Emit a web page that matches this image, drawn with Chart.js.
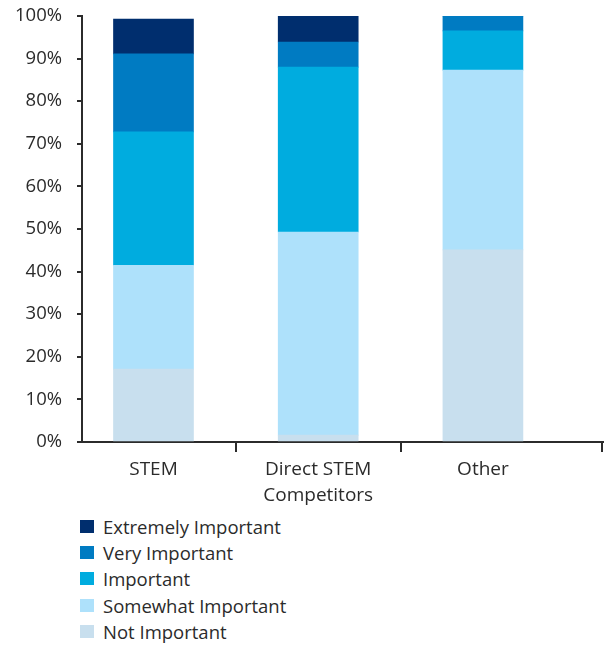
<!DOCTYPE html>
<html>
<head>
<meta charset="utf-8">
<script src="https://cdn.jsdelivr.net/npm/chart.js@4.4.1/dist/chart.umd.min.js"></script>
<style>
  html, body { margin: 0; padding: 0; background: #ffffff; }
  #wrap { position: relative; width: 609px; height: 645px; }
  #chartBox { position: absolute; left: 0; top: 0; width: 609px; height: 510px; }
  #legend { position: absolute; left: 80px; top: 513px; font-family: "Open Sans", sans-serif; font-size: 18.5px; color: #2b2b2b; }
  .lg-row { display: flex; align-items: center; height: 26.3px; }
  .lg-box { width: 14px; height: 13px; margin-right: 9px; }
</style>
</head>
<body>
<div id="wrap">
  <div id="chartBox"><canvas id="c"></canvas></div>
  <div id="legend"></div>
</div>
<script>
// ---- data ----
const categories = ["STEM", ["Direct STEM", "Competitors"], "Other"];
const categoryPositions = [0, 1, 2];
const seriesNames = ["Not Important", "Somewhat Important", "Important", "Very Important", "Extremely Important"];
const notImportant       = [17.1, 1.6, 45.1];
const somewhatImportant  = [24.4, 47.7, 42.2];
const important          = [31.3, 38.7, 9.2];
const veryImportant      = [18.3, 5.9, 3.5];
const extremelyImportant = [8.2, 6.1, 0];
const yTicks = [0, 10, 20, 30, 40, 50, 60, 70, 80, 90, 100];
const dividerPositions = [0.5, 1.5];

// ---- styles ----
const seriesColors = ["#c8dfee", "#aee1fb", "#00acdf", "#007bc2", "#002e6e"];
const axisColor = "#2b2b2b";
const fontFamily = "'Open Sans', sans-serif";

const seriesValues = [notImportant, somewhatImportant, important, veryImportant, extremelyImportant];
const datasets = seriesNames.map((name, i) => ({
  label: name,
  data: categoryPositions.map((x, j) => ({ x: x, y: seriesValues[i][j] })),
  backgroundColor: seriesColors[i],
  borderWidth: 0,
  barThickness: 80
}));

const dividerPlugin = {
  id: 'dividers',
  afterDraw(chart) {
    const { ctx, chartArea } = chart;
    const x = chart.scales.x;
    const xs = dividerPositions.map(v => x.getPixelForValue(v)).concat([chartArea.right - 1]);
    ctx.save();
    ctx.strokeStyle = axisColor;
    ctx.lineWidth = 2;
    xs.forEach(px => {
      ctx.beginPath();
      ctx.moveTo(Math.round(px), chartArea.bottom);
      ctx.lineTo(Math.round(px), chartArea.bottom + 10);
      ctx.stroke();
    });
    ctx.restore();
  }
};

const chart = new Chart(document.getElementById('c'), {
  type: 'bar',
  data: { datasets: datasets },
  plugins: [dividerPlugin],
  options: {
    responsive: true,
    maintainAspectRatio: false,
    animation: false,
    layout: { padding: { top: 16, right: 6, left: 0, bottom: 0 } },
    plugins: { legend: { display: false }, tooltip: { enabled: false } },
    scales: {
      x: {
        type: 'linear',
        offset: false,
        stacked: true,
        min: -0.434,
        max: 2.729,
        afterBuildTicks: (scale) => { scale.ticks = categoryPositions.map(v => ({ value: v })); },
        afterFit: (scale) => { scale.height = 68; scale.paddingLeft = 0; scale.paddingRight = 0; },
        grid: { display: false, drawTicks: false },
        border: { display: true, color: axisColor, width: 2 },
        ticks: {
          autoSkip: false,
          maxRotation: 0,
          padding: 15,
          color: axisColor,
          font: { family: fontFamily, size: 19, lineHeight: 26 / 19 },
          callback: (v) => categories[categoryPositions.indexOf(v)]
        }
      },
      y: {
        stacked: true,
        min: 0,
        max: 100,
        afterBuildTicks: (scale) => { scale.ticks = yTicks.map(v => ({ value: v })); },
        afterFit: (scale) => { scale.width = 82; scale.paddingTop = 0; scale.paddingBottom = 0; },
        grid: { drawOnChartArea: false, drawTicks: true, tickLength: 5, color: axisColor, lineWidth: 2 },
        border: { display: true, color: axisColor, width: 2 },
        ticks: {
          padding: 15,
          color: axisColor,
          font: { family: fontFamily, size: 18.5 },
          callback: (v) => v + '%'
        }
      }
    }
  }
});

// HTML legend (top entry = top of stack)
const legendEl = document.getElementById('legend');
for (let i = seriesNames.length - 1; i >= 0; i--) {
  const row = document.createElement('div');
  row.className = 'lg-row';
  const box = document.createElement('span');
  box.className = 'lg-box';
  box.style.background = seriesColors[i];
  const txt = document.createElement('span');
  txt.textContent = seriesNames[i];
  row.appendChild(box);
  row.appendChild(txt);
  legendEl.appendChild(row);
}
</script>
</body>
</html>
